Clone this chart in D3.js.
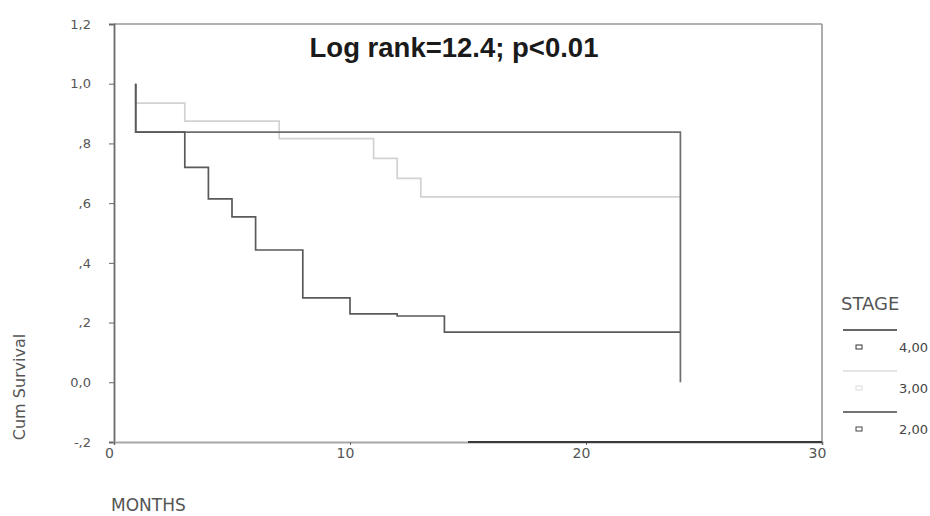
<!DOCTYPE html>
<html>
    <head>
        <title>Cum Survival</title>
        <script src="https://d3js.org/d3.v7.min.js"></script>
        <style>
            body { margin: 0; background: #fff; }
            text { font-family: "DejaVu Sans", sans-serif; }
        </style>
    </head>
    <body>
        <script type="text/javascript">
            // tick values and labels (SPSS style, comma decimals)
            const yTicks = [1.2, 1.0, 0.8, 0.6, 0.4, 0.2, 0.0, -0.2];
            const yTickLabels = ['1,2', '1,0', ',8', ',6', ',4', ',2', '0,0', '-,2'];
            const xTicks = [0, 10, 20, 30];
            const xTickLabels = ['0', '10', '20', '30'];

            // kaplan-meier steps
            const stage4Months = [0.92, 0.92, 3, 4, 5, 6, 8, 10, 12, 14, 24];
            const stage4Surv   = [1.0, 0.838, 0.72, 0.614, 0.554, 0.443, 0.283, 0.229, 0.222, 0.168, 0.168];
            const stage3Months = [0.92, 0.92, 3, 7, 11, 12, 13, 24];
            const stage3Surv   = [1.0, 0.935, 0.875, 0.816, 0.75, 0.683, 0.621, 0.621];
            const stage2Months = [0.92, 0.92, 24, 24];
            const stage2Surv   = [1.0, 0.838, 0.838, 0.0];

            const stageNames = ['4,00', '3,00', '2,00'];
            const stageColors = ['#5a5a5a', '#d2d2d2', '#6e6e6e'];
            const legendLineColors = ['#333', '#dcdcdc', '#444'];

            const width = 930, height = 516;
            const margin = {top: 24, right: 108, bottom: 74, left: 114};

            const svg = d3.select('body').append('svg')
                .attr('width', width).attr('height', height);

            const x = d3.scaleLinear().domain([0, 30]).range([margin.left, width - margin.right]);
            const y = d3.scaleLinear().domain([-0.2, 1.2]).range([height - margin.bottom, margin.top]);

            // frame: top + right in gray
            svg.append('line').attr('x1', x(0)).attr('x2', x(30)).attr('y1', y(1.2)).attr('y2', y(1.2))
                .attr('stroke', '#999').attr('stroke-width', 1.6);
            svg.append('line').attr('x1', x(30)).attr('x2', x(30)).attr('y1', y(1.2)).attr('y2', y(-0.2))
                .attr('stroke', '#999').attr('stroke-width', 1.6);

            // curves
            const line = d3.line().curve(d3.curveStepAfter)
                .x(d => x(d[0])).y(d => y(d[1]));
            const series = [
                {months: stage3Months, surv: stage3Surv, color: stageColors[1]},
                {months: stage2Months, surv: stage2Surv, color: stageColors[2]},
                {months: stage4Months, surv: stage4Surv, color: stageColors[0]}
            ];
            series.forEach(s => {
                svg.append('path')
                    .datum(d3.zip(s.months, s.surv))
                    .attr('d', line)
                    .attr('fill', 'none')
                    .attr('stroke', s.color)
                    .attr('stroke-width', 1.7);
            });

            // y axis
            const yAxis = svg.append('g').attr('transform', `translate(${x(0)},0)`)
                .call(d3.axisLeft(y).tickValues(yTicks).tickSize(5).tickPadding(18)
                    .tickFormat((d, i) => yTickLabels[i]));
            yAxis.select('.domain').attr('stroke', '#6a6a6a').attr('stroke-width', 1.8);
            yAxis.selectAll('.tick line').attr('stroke', '#666');
            yAxis.selectAll('.tick text').attr('fill', '#555').style('font-size', '13px');

            // x axis (light left part, dark from 15 on, as in the picture)
            const xAxis = svg.append('g').attr('transform', `translate(0,${y(-0.2)})`)
                .call(d3.axisBottom(x).tickValues(xTicks).tickSize(3).tickPadding(3)
                    .tickFormat((d, i) => xTickLabels[i]));
            xAxis.select('.domain').attr('stroke', '#a8a8a8').attr('stroke-width', 2);
            xAxis.append('line').attr('x1', x(15)).attr('x2', x(30)).attr('y1', 0).attr('y2', 0)
                .attr('stroke', '#3a3a3a').attr('stroke-width', 2);
            xAxis.selectAll('.tick line').attr('stroke', '#666');
            xAxis.selectAll('.tick text').attr('fill', '#555').style('font-size', '14px')
                .attr('dx', -5);

            // title
            svg.append('text').attr('x', 454).attr('y', 57)
                .attr('text-anchor', 'middle')
                .style('font-family', '"Liberation Sans", Arial, sans-serif')
                .style('font-weight', 'bold').style('font-size', '27.5px')
                .attr('fill', '#1a1a1a')
                .text('Log rank=12.4; p<0.01');

            // axis titles
            svg.append('text')
                .attr('transform', `translate(25,387) rotate(-90)`)
                .attr('text-anchor', 'middle')
                .style('font-size', '16px').attr('fill', '#555')
                .text('Cum Survival');
            svg.append('text').attr('x', 111).attr('y', 511)
                .style('font-size', '17px').attr('fill', '#555')
                .text('MONTHS');

            // legend
            const legend = svg.append('g').attr('transform', 'translate(841,0)');
            legend.append('text').attr('x', 0).attr('y', 310)
                .style('font-size', '18px').attr('fill', '#555').text('STAGE');
            stageNames.forEach((name, i) => {
                const top = 330 + i * 41;
                legend.append('line').attr('x1', 2).attr('x2', 56).attr('y1', top).attr('y2', top)
                    .attr('stroke', legendLineColors[i]).attr('stroke-width', 1.3);
                legend.append('rect').attr('x', 15).attr('y', top + 15).attr('width', 6).attr('height', 4)
                    .attr('fill', 'none').attr('stroke', legendLineColors[i]).attr('stroke-width', 1);
                legend.append('text').attr('x', 58).attr('y', top + 22)
                    .style('font-size', '13px').attr('fill', '#444').text(name);
            });
        </script>
    </body>
</html>
